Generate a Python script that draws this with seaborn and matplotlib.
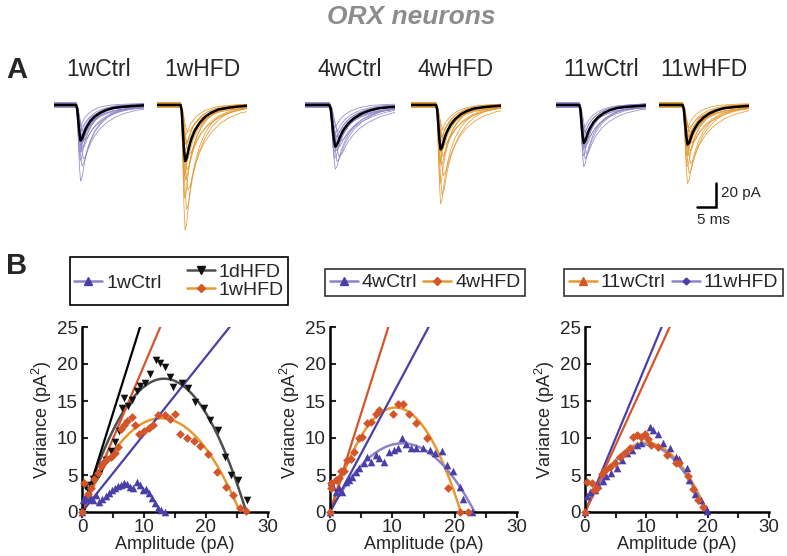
import numpy as np
import pandas as pd
import seaborn as sns
from matplotlib import pyplot as plt
from matplotlib.lines import Line2D
from matplotlib.patches import Rectangle

sns.set_style("white")
plt.rcParams['font.family'] = ['Liberation Sans', 'DejaVu Sans']
plt.rcParams['mathtext.fontset'] = 'custom'
plt.rcParams['mathtext.rm'] = 'Liberation Sans'
plt.rcParams['mathtext.default'] = 'regular'

W, H = 787, 556

# colours
PURPLE = '#4a3fa6'
LIGHT_PURPLE = '#8c84c9'
RED = '#d4552a'
ORANGE = '#e59a30'
BLACK = '#111111'
GREY = '#4f4f4f'
TRACE_PURPLE = '#8e85c7'
TRACE_ORANGE = '#e3982f'

# ---------------- panel A data (pA, ms) ----------------
trace_names = ['1wCtrl', '1wHFD', '4wCtrl', '4wHFD', '11wCtrl', '11wHFD']
trace_colors = [TRACE_PURPLE, TRACE_ORANGE, TRACE_PURPLE, TRACE_ORANGE, TRACE_PURPLE, TRACE_ORANGE]
trace_left_px = [54, 157, 305, 411, 556, 659]
mean_amp = [29.7, 46.7, 34.7, 37.0, 31.7, 33.0]
onset_ms = [5.8, 6.2, 6.4, 6.6, 6.1, 6.2]
mean_stretch = [1.0, 1.0, 1.3, 1.0, 1.0, 1.1]

# normalised mEPSC shape (time from onset, ms)
shape_t = [-10, 0, 0.3, 0.6, 0.9, 1.2, 1.6, 2.0, 2.5, 3.0, 3.8, 5.0, 6.5, 8.0, 10.0, 12.5, 15.0, 18.0, 30.0]
shape_v = [0, 0, -0.1, -0.45, -0.8, -1.0, -0.95, -0.82, -0.68, -0.58, -0.45, -0.32, -0.21, -0.14, -0.08, -0.05, -0.03, -0.01, 0]

indiv_amp = [
    [62, 52, 47, 44, 41, 38, 36, 34, 32, 30, 28, 27, 25, 23, 21, 19, 17],
    [103, 88, 78, 70, 64, 58, 54, 50, 46, 42, 38, 34, 30, 26, 22],
    [52, 48, 45, 42, 40, 38, 36, 35, 33, 31, 30, 28, 26, 24, 22, 20],
    [81, 76, 66, 58, 52, 47, 43, 40, 37, 34, 31, 28, 26, 23, 20],
    [50, 46, 43, 40, 38, 36, 34, 32, 30, 28, 26, 24, 22, 20],
    [64, 58, 52, 48, 44, 41, 38, 36, 34, 32, 30, 28, 26, 24, 22, 20, 18],
]
indiv_stretch = [1.0, 1.3, 0.9, 1.6, 1.1, 0.8, 1.4, 1.2, 1.0, 1.8, 0.9, 1.1, 1.3, 1.0, 1.5, 0.85, 1.2]
indiv_offset = [-1.5, 1.0, 0.5, -0.8, 1.8, -1.2, 0.2, 2.0, -2.0, 0.7, -0.3, 1.4, -1.6, 0.9, -0.6, 1.2, -1.0]

# ---------------- panel B data (amplitude pA, variance pA^2) ----------------
amp_1wCtrl = [0.0, 0.2, 0.5, 0.9, 1.3, 1.8, 2.3, 2.8, 3.3, 3.8, 4.3, 4.8, 5.3, 5.8, 6.3, 6.8, 7.3, 7.8, 8.3, 8.8, 9.3, 9.8, 10.3, 10.8, 11.3, 11.8, 12.3, 12.8, 13.4]
var_1wCtrl = [0.0, 1.6, 2.0, 1.7, 2.2, 1.6, 2.3, 1.3, 1.7, 2.1, 2.6, 3.0, 3.2, 3.5, 3.7, 3.9, 3.8, 3.4, 3.2, 4.1, 3.6, 3.0, 3.1, 2.6, 1.9, 1.2, 0.6, 0.3, 0.0]

amp_1dHFD = [0.0, 0.5, 0.9, 1.3, 1.8, 2.3, 2.8, 3.3, 3.9, 4.6, 5.3, 5.9, 6.4, 6.8, 7.4, 8.0, 8.8, 9.3, 10.1, 10.9, 11.9, 12.5, 13.4, 14.2, 14.7, 16.1, 17.1, 18.2, 19.6, 20.6, 22.0, 23.1, 24.1, 25.2, 26.6]
var_1dHFD = [0.0, 3.5, 3.0, 3.6, 4.4, 4.6, 5.2, 6.1, 7.0, 8.2, 9.5, 11.0, 14.0, 15.4, 14.3, 15.1, 16.4, 17.0, 17.5, 18.7, 20.5, 20.1, 19.6, 18.3, 16.9, 17.4, 16.7, 14.8, 14.0, 12.4, 11.1, 7.5, 5.0, 4.3, 1.6]

amp_1wHFD = [0.0, 0.3, 0.9, 1.5, 2.0, 2.5, 3.0, 3.5, 4.0, 4.7, 5.3, 5.8, 6.3, 6.7, 7.2, 8.0, 8.5, 9.2, 10.0, 10.8, 11.5, 12.3, 13.4, 14.2, 15.0, 15.8, 16.9, 18.0, 19.0, 20.4, 21.7, 23.3, 24.4, 25.5, 26.4]
var_1wHFD = [0.0, 3.9, 2.5, 3.3, 4.5, 5.3, 6.2, 6.8, 7.1, 7.5, 8.0, 8.8, 11.2, 11.8, 12.3, 12.9, 11.8, 10.6, 11.0, 11.3, 11.8, 13.1, 13.1, 12.6, 13.2, 10.6, 10.0, 9.6, 8.9, 7.9, 5.4, 3.4, 2.3, 0.5, 0.1]

amp_4wCtrl = [0.0, 0.2, 0.5, 1.0, 1.5, 2.0, 2.6, 3.1, 3.6, 4.2, 4.7, 5.5, 6.0, 6.6, 7.4, 7.9, 8.7, 9.5, 10.3, 10.9, 11.6, 12.2, 13.0, 13.8, 14.9, 16.1, 16.9, 18.0, 18.7, 19.8, 20.9, 21.4, 22.8]
var_4wCtrl = [0.0, 4.1, 3.4, 2.7, 3.2, 2.7, 4.1, 4.3, 4.7, 5.4, 5.9, 6.6, 7.5, 6.8, 7.7, 7.3, 6.8, 8.1, 8.4, 8.6, 10.0, 9.2, 8.7, 8.7, 8.6, 8.4, 8.0, 8.2, 6.4, 5.5, 3.4, 1.8, 0.0]

amp_4wHFD = [0.0, 0.16, 0.2, 0.96, 1.5, 1.8, 2.3, 2.8, 3.4, 3.9, 4.7, 5.2, 6.0, 6.6, 7.4, 7.9, 10.1, 10.9, 11.7, 12.6, 13.8, 15.5, 19.0, 20.8, 22.2]
var_4wHFD = [0.0, 3.9, 3.2, 4.3, 4.6, 5.6, 5.5, 7.0, 7.2, 8.1, 10.0, 10.2, 12.0, 12.2, 13.3, 13.8, 13.3, 14.6, 14.6, 13.3, 12.0, 10.0, 3.2, 0.0, 0.0]

amp_11wCtrl = [0.0, 0.27, 0.8, 1.6, 2.2, 3.0, 3.5, 4.3, 5.2, 6.0, 6.8, 7.6, 8.4, 9.2, 10.6, 11.1, 11.9, 12.7, 13.8, 14.9, 15.4, 16.6, 17.0, 18.0, 18.9, 19.7, 19.9]
var_11wCtrl = [0.0, 2.1, 2.7, 3.0, 3.6, 4.2, 4.8, 5.3, 5.9, 7.0, 8.0, 8.4, 9.1, 9.3, 11.5, 11.1, 10.6, 9.3, 8.6, 7.5, 7.1, 6.0, 4.3, 2.5, 1.6, 0.5, 0.2]

amp_11wHFD = [0.0, 0.27, 1.1, 1.4, 1.9, 2.7, 3.2, 4.1, 4.9, 5.7, 6.5, 7.3, 7.9, 8.4, 9.2, 9.8, 10.3, 10.8, 11.9, 13.3, 14.9, 15.4, 16.8, 17.6, 18.4, 19.2]
var_11wHFD = [0.0, 4.1, 3.9, 3.0, 3.2, 5.2, 5.7, 6.1, 6.6, 7.5, 8.0, 8.6, 10.2, 10.4, 10.2, 10.6, 9.9, 9.1, 8.8, 7.7, 6.6, 6.6, 4.8, 3.1, 1.6, 0.7]

# parabolic fits (i = unitary current, N = channel number) and initial-slope lines
fit_i_1 = [2.72, 1.99]
fit_N_1 = [9.74, 12.8]
slope_1 = [2.67, 1.98, 1.05]
fit_i_2 = [2.69, 1.60]
fit_N_2 = [7.8, 14.5]
slope_2 = [2.67, 1.58]
fit_i_3 = [1.88, 1.85]
fit_N_3 = [10.6, 10.65]
slope_3 = [2.0, 1.81]

fig = plt.figure(figsize=(W / 100, H / 100), dpi=100)

fig.text(411 / W, 1 - 17 / H, 'ORX neurons', color='#8c8c8c', fontsize=19,
         fontweight='bold', fontstyle='italic', ha='center', va='center')
fig.text(6 / W, 1 - 70 / H, 'A', fontsize=21, fontweight='bold', ha='left', va='center')
fig.text(6 / W, 1 - 266 / H, 'B', fontsize=21, fontweight='bold', ha='left', va='center')

# ---------------- panel A: traces ----------------
ax_top, ax_bot = 92, 240
xmax_ms = 23.7
ymin_pa, ymax_pa = -112.5, 10.8
for k, name in enumerate(trace_names):
    ax = fig.add_axes([trace_left_px[k] / W, 1 - ax_bot / H, 90 / W, (ax_bot - ax_top) / H])
    rows = []
    for j, a in enumerate(indiv_amp[k]):
        for t, v in zip(shape_t, shape_v):
            rows.append({'time': onset_ms[k] + t * indiv_stretch[j] * mean_stretch[k],
                         'current': v * a + indiv_offset[j], 'trace': j})
    df = pd.DataFrame(rows)
    sns.lineplot(data=df, x='time', y='current', units='trace', estimator=None, sort=False,
                 color=trace_colors[k], lw=0.6, alpha=0.9, ax=ax)
    mean_t = [onset_ms[k] + t * mean_stretch[k] for t in shape_t]
    mean_v = [v * mean_amp[k] for v in shape_v]
    sns.lineplot(x=mean_t, y=mean_v, sort=False, color='black', lw=1.8, ax=ax)
    ax.set_xlim(0, xmax_ms)
    ax.set_ylim(ymin_pa, ymax_pa)
    ax.axis('off')
    ax.text(0.5, 1.15, name, transform=ax.transAxes, ha='center', va='center', fontsize=16.5)
    if name == '11wHFD':
        # scale bar 5 ms / 20 pA
        ax.plot([10.0, 15.0, 15.0], [-85, -85, -65], color='black', lw=1.8,
                solid_joinstyle='miter', clip_on=False)
        ax.text(16.2, -73, '20 pA', fontsize=11, ha='left', va='center')
        ax.text(10.0, -96, '5 ms', fontsize=11, ha='left', va='center')


# ---------------- panel B: variance vs amplitude ----------------
def style_axis(ax):
    ax.set_xlim(0, 30)
    ax.set_ylim(0, 25)
    ax.set_xticks([0, 10, 20, 30])
    ax.set_xticks([5, 15, 25], minor=True)
    ax.set_yticks([0, 5, 10, 15, 20, 25])
    ax.tick_params(axis='x', which='both', direction='out', length=4, width=1.5,
                   labelsize=13.5, pad=1, bottom=True)
    ax.tick_params(axis='y', which='both', direction='in', length=4, width=1.5,
                   labelsize=13.5, pad=3, left=True)
    for s in ['top', 'right']:
        ax.spines[s].set_visible(False)
    for s in ['left', 'bottom']:
        ax.spines[s].set_linewidth(1.8)
        ax.spines[s].set_color('black')
    ax.set_xlabel('Amplitude (pA)', fontsize=13, labelpad=0)
    ax.set_ylabel('Variance (pA$^2$)', fontsize=13, labelpad=2)


def fit_curve(ax, i, N, color):
    I = np.linspace(0, i * N, 120)
    sns.lineplot(x=I, y=i * I - I ** 2 / N, color=color, lw=1.8, ax=ax, clip_on=False)


def slope_line(ax, s, color):
    sns.lineplot(x=[0, 30], y=[0, 30 * s], color=color, lw=1.6, ax=ax)


ax_y0, ax_h = 1 - 512 / H, 185 / H
b1 = fig.add_axes([82 / W, ax_y0, 186 / W, ax_h])
b2 = fig.add_axes([330 / W, ax_y0, 187 / W, ax_h])
b3 = fig.add_axes([585 / W, ax_y0, 184 / W, ax_h])

# panel B1
sns.scatterplot(x=amp_1wCtrl, y=var_1wCtrl, marker='^', color=PURPLE, s=30, linewidth=0, ax=b1, clip_on=False, zorder=3)
sns.scatterplot(x=amp_1dHFD, y=var_1dHFD, marker='v', color=BLACK, s=30, linewidth=0, ax=b1, clip_on=False, zorder=3)
sns.scatterplot(x=amp_1wHFD, y=var_1wHFD, marker='D', color=RED, s=20, linewidth=0, ax=b1, clip_on=False, zorder=3)
fit_curve(b1, fit_i_1[0], fit_N_1[0], GREY)
fit_curve(b1, fit_i_1[1], fit_N_1[1], ORANGE)
slope_line(b1, slope_1[0], 'black')
slope_line(b1, slope_1[1], RED)
slope_line(b1, slope_1[2], PURPLE)
style_axis(b1)

# panel B2
sns.scatterplot(x=amp_4wCtrl, y=var_4wCtrl, marker='^', color=PURPLE, s=30, linewidth=0, ax=b2, clip_on=False, zorder=3)
sns.scatterplot(x=amp_4wHFD, y=var_4wHFD, marker='D', color=RED, s=20, linewidth=0, ax=b2, clip_on=False, zorder=3)
fit_curve(b2, fit_i_2[0], fit_N_2[0], ORANGE)
fit_curve(b2, fit_i_2[1], fit_N_2[1], LIGHT_PURPLE)
slope_line(b2, slope_2[0], RED)
slope_line(b2, slope_2[1], PURPLE)
style_axis(b2)

# panel B3
sns.scatterplot(x=amp_11wCtrl, y=var_11wCtrl, marker='^', color=PURPLE, s=30, linewidth=0, ax=b3, clip_on=False, zorder=3)
sns.scatterplot(x=amp_11wHFD, y=var_11wHFD, marker='D', color=RED, s=20, linewidth=0, ax=b3, clip_on=False, zorder=3)
fit_curve(b3, fit_i_3[0], fit_N_3[0], ORANGE)
fit_curve(b3, fit_i_3[1], fit_N_3[1], LIGHT_PURPLE)
slope_line(b3, slope_3[0], PURPLE)
slope_line(b3, slope_3[1], RED)
style_axis(b3)


# ---------------- legends ----------------
def handle(line_color, marker, marker_color, ms=5.5):
    return Line2D([], [], color=line_color, lw=1.8, marker=marker, markersize=ms,
                  markerfacecolor=marker_color, markeredgecolor=marker_color)


leg_kw = dict(fontsize=14, handlelength=1.45, handletextpad=0.2, borderaxespad=0)

fig.add_artist(Rectangle((70 / W, 1 - 305 / H), 218 / W, 48 / H, transform=fig.transFigure,
                         fill=False, edgecolor='black', lw=1.2))
fig.legend(handles=[handle(LIGHT_PURPLE, '^', PURPLE)], labels=['1wCtrl'], loc='center left',
           bbox_to_anchor=(74 / W, 1 - 283 / H), frameon=False, borderpad=0, **leg_kw)
fig.legend(handles=[handle(GREY, 'v', BLACK), handle(ORANGE, 'D', RED, 4.5)], labels=['1dHFD', '1wHFD'],
           loc='center right', bbox_to_anchor=(284 / W, 1 - 281 / H), frameon=False, borderpad=0,
           labelspacing=0.05, **leg_kw)

leg2 = fig.legend(handles=[handle(LIGHT_PURPLE, '^', PURPLE), handle(ORANGE, 'D', RED, 4.5)],
                  labels=['4wCtrl', '4wHFD'], loc='center', bbox_to_anchor=(425 / W, 1 - 282.5 / H),
                  ncol=2, frameon=True, fancybox=False, edgecolor='black', borderpad=0.25,
                  columnspacing=0.3, **leg_kw)
leg2.get_frame().set_linewidth(1.2)

leg3 = fig.legend(handles=[handle(ORANGE, '^', RED), handle(LIGHT_PURPLE, 'D', PURPLE, 3.5)],
                  labels=['11wCtrl', '11wHFD'], loc='center', bbox_to_anchor=(673.5 / W, 1 - 282.5 / H),
                  ncol=2, frameon=True, fancybox=False, edgecolor='black', borderpad=0.25,
                  columnspacing=0.3, **leg_kw)
leg3.get_frame().set_linewidth(1.2)

plt.savefig('out.png', dpi=100)
